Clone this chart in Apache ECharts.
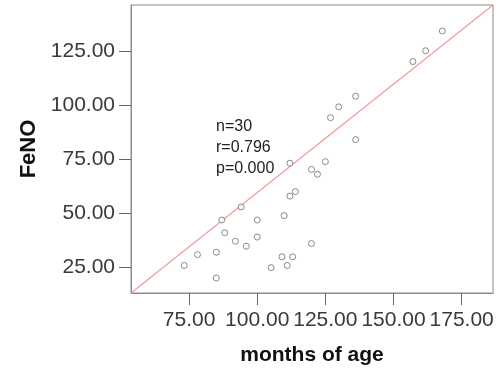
<!DOCTYPE html>
<html>
<head>
<meta charset="utf-8">
<script src="https://cdn.jsdelivr.net/npm/echarts@6/dist/echarts.min.js"></script>
<style>
  html, body { margin: 0; padding: 0; background: #fff; }
  #chart { width: 500px; height: 371px; }
</style>
</head>
<body>
<div id="chart"></div>
<script>
// months of age vs FeNO
var ageMonths = [167.9, 161.8, 157.1, 136.1, 129.9, 126.9, 136.1, 125.0, 112.0, 119.9,
                 122.1, 114.0, 112.0, 94.1, 109.9, 87.0, 100.0, 88.1, 100.0, 92.0,
                 96.0, 119.9, 78.1, 85.0, 109.1, 113.0, 73.2, 105.1, 111.0, 85.0];
var fenoValues = [134.2, 125.1, 120.1, 104.1, 99.2, 94.2, 84.1, 73.9, 73.2, 70.3,
                  68.1, 60.1, 58.0, 53.0, 49.0, 47.0, 47.0, 41.1, 39.1, 37.2,
                  34.9, 36.1, 31.0, 32.1, 30.0, 30.0, 26.0, 25.0, 26.0, 20.2];
var xTicks = [75, 100, 125, 150, 175];
var yTicks = [25, 50, 75, 100, 125];
var xRange = [53.7, 186.5];
var yRange = [13.3, 146.2];
// fit line, runs corner to corner of the plot
var fitLine = [[53.7, 13.3], [186.5, 146.2]];
var statsText = ['n=30', 'r=0.796', 'p=0.000'];

var points = ageMonths.map(function (v, i) { return [v, fenoValues[i]]; });

var chart = echarts.init(document.getElementById('chart'));

var option = {
  animation: false,
  backgroundColor: '#fff',
  grid: {
    left: 131, right: 7, top: 5, bottom: 78,
    show: true,
    borderColor: '#8c8c8c',
    borderWidth: 1
  },
  xAxis: {
    type: 'value',
    min: xRange[0],
    max: xRange[1],
    name: 'months of age',
    nameLocation: 'middle',
    nameGap: 52,
    nameTextStyle: { fontFamily: 'Liberation Sans', fontSize: 21, fontWeight: 'bold', color: '#111' },
    splitLine: { show: false },
    axisLine: { lineStyle: { color: '#8c8c8c' } },
    axisTick: { show: true, length: 12, customValues: xTicks, lineStyle: { color: '#666' } },
    axisLabel: {
      customValues: xTicks,
      margin: 17,
      fontFamily: 'Liberation Sans',
      fontSize: 21,
      color: '#3a3a3a',
      formatter: function (v) { return v.toFixed(2); }
    }
  },
  yAxis: {
    type: 'value',
    min: yRange[0],
    max: yRange[1],
    name: 'FeNO',
    nameLocation: 'middle',
    nameGap: 90,
    nameRotate: 90,
    nameTextStyle: { fontFamily: 'Liberation Sans', fontSize: 22, fontWeight: 'bold', color: '#111' },
    splitLine: { show: false },
    axisLine: { show: true, lineStyle: { color: '#8c8c8c' } },
    axisTick: { show: true, length: 12, customValues: yTicks, lineStyle: { color: '#666' } },
    axisLabel: {
      customValues: yTicks,
      margin: 16,
      padding: [6, 0, 0, 0],
      fontFamily: 'Liberation Sans',
      fontSize: 21,
      color: '#3a3a3a',
      formatter: function (v) { return v.toFixed(2); }
    }
  },
  graphic: [{
    type: 'text',
    left: 216,
    top: 116,
    style: {
      text: statsText.join('\n'),
      fontFamily: 'Liberation Sans',
      fontSize: 16,
      lineHeight: 21,
      fill: '#222'
    }
  }],
  series: [
    {
      type: 'line',
      data: fitLine,
      symbol: 'none',
      lineStyle: { color: '#f29a9a', width: 1.2 },
      z: 1
    },
    {
      type: 'scatter',
      data: points,
      symbol: 'circle',
      symbolSize: 6,
      itemStyle: { color: '#fff', borderColor: '#6e6e6e', borderWidth: 1 },
      z: 2
    }
  ]
};

chart.setOption(option);
</script>
</body>
</html>
